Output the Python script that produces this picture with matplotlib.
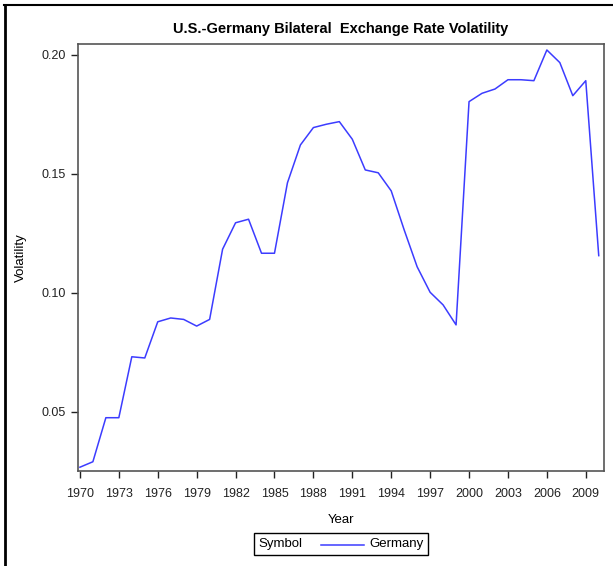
import numpy as np
import matplotlib
matplotlib.use('Agg')
import matplotlib.pyplot as plt
from matplotlib.lines import Line2D
from matplotlib.offsetbox import AnchoredOffsetbox, HPacker, TextArea, DrawingArea

plt.rcParams['font.family'] = ['Liberation Sans Narrow', 'Liberation Sans', 'DejaVu Sans']

## data
years = np.arange(1970, 2011)
germany = [0.0268, 0.0291, 0.0476, 0.0476, 0.0732, 0.0727, 0.0879, 0.0895, 0.0889, 0.0861,
           0.0889, 0.1184, 0.1295, 0.1310, 0.1167, 0.1167, 0.1463, 0.1622, 0.1695, 0.1709,
           0.1720, 0.1646, 0.1517, 0.1505, 0.1429, 0.1265, 0.1110, 0.1003, 0.0950, 0.0866,
           0.1804, 0.1839, 0.1857, 0.1896, 0.1896, 0.1892, 0.2021, 0.1968, 0.1829, 0.1892,
           0.1157]
xticks = np.arange(1970, 2010, 3)
yticks = [0.05, 0.10, 0.15, 0.20]

line_col = '#3c3cff'

fig = plt.figure(figsize=(6.13, 5.66), dpi=100)
ax = fig.add_axes([0.1272, 0.1678, 0.858, 0.7544])

ax.plot(years, germany, color=line_col, lw=1.1)

ax.set_xlim(1969.85, 2010.4)
ax.set_ylim(0.0252, 0.2046)
ax.set_xticks(xticks)
ax.set_yticks(yticks)
ax.set_yticklabels(['%.2f' % v for v in yticks])
ax.tick_params(direction='out', length=5, width=1, labelsize=9, colors='#222222')
ax.tick_params(axis='x', pad=7)
for s in ax.spines.values():
    s.set_color('#555555')
    s.set_linewidth(1.2)

ax.set_xlabel('Year', fontsize=9.5, labelpad=10)
ax.set_ylabel('Volatility', fontsize=9.5)
ax.yaxis.set_label_coords(-0.097, 0.5)
ax.set_title('U.S.-Germany Bilateral  Exchange Rate Volatility', fontsize=10.5,
             fontweight='bold', pad=8)

# legend: Symbol ---- Germany in one row (sizes in points)
da = DrawingArea(40, 7, 0, 0)
da.add_artist(Line2D([9, 40], [3, 3], color=line_col, lw=1.1))
box = HPacker(children=[TextArea('Symbol', textprops=dict(size=9.5)), da,
                        TextArea('Germany', textprops=dict(size=9.5))],
              align='center', pad=0, sep=4)
leg = AnchoredOffsetbox(loc='center', child=box, pad=0.35, borderpad=0, frameon=True,
                        prop=dict(size=9.5),
                        bbox_to_anchor=(0.5563, 0.0389), bbox_transform=fig.transFigure)
leg.patch.set_edgecolor('black')
leg.patch.set_linewidth(1)
fig.add_artist(leg)

# outer border lines of the screenshot
fig.add_artist(Line2D([4 / 613, 1], [1 - 5 / 566, 1 - 5 / 566], transform=fig.transFigure,
                      color='black', lw=1.5))
fig.add_artist(Line2D([5 / 613, 5 / 613], [0, 1 - 5 / 566], transform=fig.transFigure,
                      color='black', lw=2))

fig.savefig('out.png', dpi=100)
